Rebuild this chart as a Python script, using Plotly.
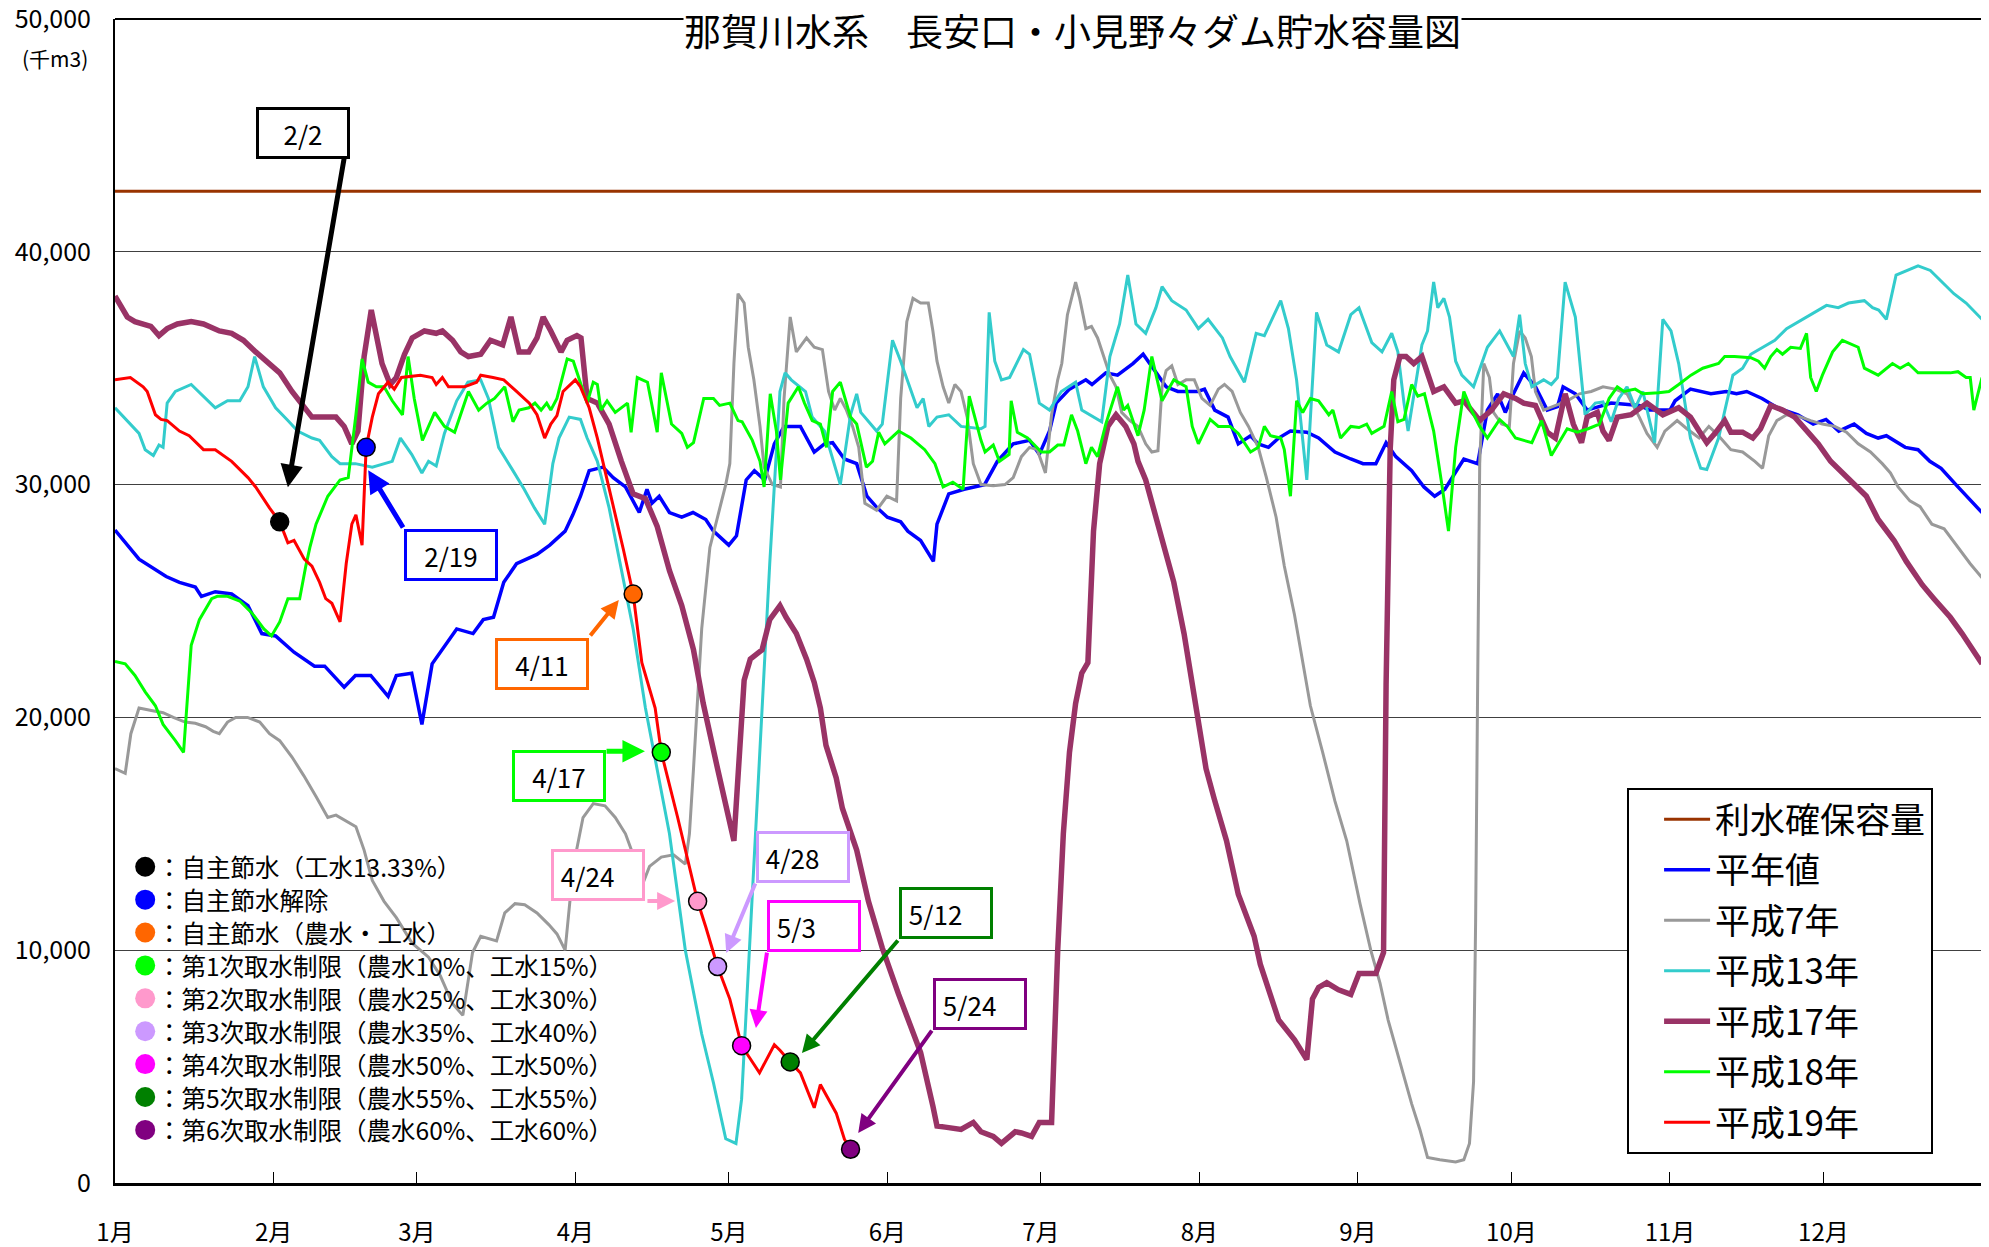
import plotly.graph_objects as go

# ---------------- data (千m3), x = day of year (0 = 1月1日) ----------------
month_ticks = [0, 31, 59, 90, 120, 151, 181, 212, 243, 273, 304, 334]
month_labels = ["1月", "2月", "3月", "4月", "5月", "6月", "7月", "8月", "9月", "10月", "11月", "12月"]
y_ticks = [0, 10000, 20000, 30000, 40000, 50000]

reserve_days = [0, 365]
reserve_vals = [42600, 42600]

avg_days = [0, 4.7, 10, 12.6, 15.7, 16.9, 19.6, 22.8, 26, 28.7, 31.4, 35, 39, 41, 44.8, 47, 50, 53.4, 55, 58,
            60, 62, 66.8, 70, 72, 74, 76, 78.5, 82.5, 85, 88, 89.5, 91, 92.7, 95.4, 97.4, 99.8, 102.5, 104, 105,
            106.4, 108.4, 110.8, 113, 115.5, 117, 120, 121.5, 123.4, 125, 127, 128.9, 130.8, 134, 136.7, 138.7,
            140.3, 142.6, 145, 147, 149, 151, 153.6, 155, 157.5, 160, 160.7, 163, 166, 170, 172.5, 175.6, 178.8,
            180.7, 182.7, 184, 186.6, 189.8, 191, 193.7, 196, 199, 201, 203, 205.5, 207.8, 211.7, 213, 215, 217.6,
            219.6, 222, 223.5, 225.5, 227.5, 229.8, 233, 235.3, 238.5, 241.6, 244, 246.5, 248.5, 250.4, 253.5,
            255.9, 258, 260, 262, 263.7, 266.4, 268.3, 270.3, 271.8, 273.4, 275.4, 277.7, 280, 282, 283.1, 285.5,
            287.8, 292.5, 298, 300, 304, 305, 308, 312, 315, 317, 319, 322, 325, 329, 332, 334.5, 337, 340, 342.4,
            344.7, 346.3, 350, 352.5, 354.8, 357, 360.3, 363.4, 365]
avg_vals = [28050, 26800, 26050, 25800, 25600, 25200, 25400, 25300, 24800, 23600, 23500, 22800, 22200, 22200,
            21300, 21800, 21800, 20900, 21800, 21900, 19700, 22300, 23800, 23600, 24200, 24300, 25800, 26600,
            27000, 27400, 28000, 28700, 29500, 30600, 30750, 30300, 29900, 28800, 29800, 29200, 29500, 28800,
            28600, 28800, 28500, 28000, 27400, 27800, 30200, 30600, 30200, 31750, 32500, 32500, 31400, 31750,
            31800, 31100, 30900, 29500, 29000, 28600, 28400, 28000, 27600, 26700, 28300, 29600, 29800, 30000,
            31000, 31750, 31900, 31300, 32300, 33500, 34100, 34500, 34300, 34800, 34700, 35200, 35600, 35000,
            34200, 34000, 34000, 34100, 33200, 32900, 31750, 32100, 31750, 31600, 32000, 32300, 32250, 32000,
            31400, 31100, 30900, 30900, 31800, 31200, 30600, 29900, 29500, 29800, 30500, 31100, 30900, 33200,
            33900, 33100, 33900, 34800, 34200, 33200, 33350, 34200, 33900, 33200, 33500, 33400, 33200, 33200,
            33600, 34100, 33900, 34000, 33900, 34000, 33700, 33300, 33000, 32600, 32800, 32300, 32600, 32200,
            32000, 32100, 31600, 31500, 31000, 30700, 29900, 29200, 28800]

h7_days = [0, 2, 3.1, 4.7, 7.1, 9.4, 11.4, 13.7, 15.7, 17.7, 19.2, 20.4, 22, 23.6, 25.9, 28.3, 30.2, 32.2, 34.6,
           36.9, 39.3, 41.6, 43.2, 44.8, 47.1, 48.7, 50.3, 52.6, 55, 58.1, 61.3, 63.6, 66, 68, 69.9, 71.5, 74.6,
           76.2, 78.2, 80.1, 82.5, 84.8, 86.4, 88, 89.6, 91.5, 93.5, 95.8, 97.8, 99.8, 101.3, 102.9, 104.5, 106.8,
           109.2, 111.5, 112.3, 113.1, 113.9, 114.7, 116.3, 117.8, 119.4, 120.2, 121, 121.8, 123, 123.8, 124.9,
           126.1, 126.9, 128.5, 130.1, 130.8, 132, 133.2, 135.2, 136.7, 138.3, 139.5, 140.7, 141.8, 143, 144.2,
           145.4, 146.6, 148.9, 150.9, 152.8, 153.6, 154.8, 156, 157.5, 159, 159.9, 160.7, 161.9, 163, 164.2,
           165.4, 166.6, 167.8, 169.3, 171.7, 174, 175.6, 177.2, 178.8, 180.3, 181.9, 183.1, 184.3, 185.1, 186.2,
           187.8, 188.6, 189.8, 190.9, 192.1, 193.3, 194.5, 195.7, 196.8, 198.4, 200, 201.5, 202.7, 203.9, 204.7,
           205.5, 206.6, 207.8, 209.4, 211, 212.5, 214.1, 215.7, 216.9, 218.4, 220, 221.6, 223.5, 225.1, 227,
           228.6, 230.6, 232.2, 233.7, 236.1, 238.5, 240.8, 242.4, 243.4, 245.5, 247.3, 248.9, 251.2, 253.5,
           255.1, 256.6, 259, 262.1, 263.7, 264.8, 265.6, 266, 266.4, 266.8, 267.6, 268.7, 269.5, 271.1, 272.6,
           273.4, 274.6, 275.7, 276.9, 277.7, 279.3, 281.6, 283.9, 286.3, 288.6, 290.9, 293.3, 295.6, 298, 299.5,
           301.5, 303, 305.4, 307.3, 309.7, 311.6, 313.5, 315.9, 318.2, 320.6, 322.1, 323.3, 324.9, 326.8, 329,
           331.5, 333.8, 336.2, 338.5, 340.8, 343.2, 345.5, 347.1, 348.6, 350.9, 352.9, 355.2, 357.6, 360.3,
           362.7, 365]
h7_vals = [17800, 17600, 19300, 20400, 20300, 20200, 20000, 19800, 19750, 19600, 19400, 19300, 19800, 20000,
           20000, 19800, 19300, 19000, 18300, 17500, 16600, 15700, 15800, 15600, 15300, 14300, 13000, 12100,
           11400, 10300, 9700, 8900, 7700, 7200, 9900, 10600, 10400, 11600, 12000, 11950, 11600, 11100, 10700,
           10000, 13600, 15700, 16300, 16200, 15700, 15000, 14100, 12700, 13600, 14000, 14100, 13700, 15000,
           17800, 20600, 23800, 27300, 28600, 30000, 30900, 35200, 38200, 37800, 35900, 34500, 32500, 30750,
           30000, 29900, 33700, 37200, 35700, 36300, 35900, 35800, 34000, 33200, 33700, 33200, 32500, 31600,
           29200, 28900, 29500, 29300, 33700, 37000, 38000, 37800, 37800, 36600, 35300, 34200, 33500, 34300,
           34000, 32900, 30900, 30000, 29950, 30000, 30300, 31200, 31600, 31500, 30500, 33000, 34500, 35200,
           37300, 38700, 38000, 36700, 36800, 36300, 35500, 34700, 34200, 33100, 32750, 32500, 31750, 31400,
           31450, 34200, 34900, 35100, 34300, 34500, 34500, 33700, 33400, 34100, 34300, 34000, 33100, 32500,
           31600, 30300, 28600, 26500, 24400, 22350, 20500, 18500, 16400, 14700, 13000, 12000, 10000, 8600, 7000,
           5200, 3400, 2300, 1100, 1000, 900, 1000, 1700, 4350, 11200, 21400, 30900, 35200, 34600, 33100, 32600,
           32500, 35200, 36600, 36300, 35500, 34000, 33200, 33400, 33600, 33900, 34000, 34200, 34100, 33900,
           32900, 32200, 31600, 32300, 32750, 32400, 32000, 32500, 32100, 31500, 31400, 31000, 30700, 32100,
           32750, 33000, 32950, 32750, 32600, 32500, 32250, 31750, 31400, 30900, 30500, 29900, 29300, 29050,
           28300, 28100, 27300, 26600, 26000]

h13_days = [0, 2.4, 4.7, 5.9, 7.5, 8.6, 9.4, 10.2, 11.8, 14.9, 17.3, 19.6, 22, 24.4, 26, 27.3, 29, 31.4, 33.8,
            35.7, 38.5, 40, 42.4, 44, 47, 50.3, 54.2, 55.8, 58, 60, 61.3, 62.8, 64.4, 66.8, 69, 71.5, 73, 75, 77.8,
            80, 82, 84, 85.6, 86.8, 88.8, 91, 92.3, 94.3, 96.6, 99, 101.3, 103.7, 106, 108.4, 111.5, 114.7, 117,
            119.4, 121.4, 122.5, 124.5, 126.5, 128, 130, 131, 132.2, 135, 136.3, 138.7, 141.8, 143.8, 145, 145.8,
            148.9, 150, 152, 153.6, 155.2, 156.8, 158, 159.1, 160.7, 163, 165.4, 169.3, 170.1, 170.9, 172, 173.3,
            174.9, 176.4, 177.6, 178.8, 180.7, 182.7, 185, 187.8, 189, 192.9, 194.5, 196.4, 198, 199.6, 201.5,
            203.5, 204.7, 206.6, 209.4, 211.8, 213.7, 216.5, 218, 220.8, 223.1, 224.7, 227.9, 229.4, 231, 233,
            234.9, 236.9, 239.2, 241.6, 243.2, 245.7, 247.7, 249.6, 250.8, 252, 252.8, 255.5, 256.6, 257.8, 258.6,
            259.8, 260.9, 262.1, 263.3, 265.6, 268.3, 270.7, 273.4, 274.6, 275.7, 277, 279.3, 280.8, 282, 283.5,
            285.5, 287.4, 289.4, 290.9, 292.5, 294, 295.6, 297.2, 298.7, 301, 302.6, 304.2, 305.7, 308, 310,
            311.2, 313.5, 316.3, 318.2, 319.8, 321.3, 324.5, 326.8, 330, 333, 334.6, 336.9, 338.9, 342, 343.6,
            344.8, 346.3, 348.2, 350.2, 352.5, 354.9, 357.2, 359.5, 361.9, 365]
h13_vals = [33300, 32750, 32200, 31500, 31250, 31700, 31600, 33500, 34000, 34300, 33800, 33300, 33600, 33600,
            34200, 35500, 34200, 33300, 32750, 32300, 32000, 31900, 31200, 30900, 30900, 30750, 31000, 32000,
            31300, 30500, 31000, 30800, 32200, 33600, 34400, 34500, 33700, 31600, 30600, 29800, 29000, 28300,
            30900, 32000, 32900, 32800, 32000, 31000, 29000, 26300, 23800, 20400, 17800, 15000, 10000, 6400, 4300,
            1900, 1700, 3600, 12000, 20400, 26600, 34000, 34800, 34500, 34000, 32900, 32300, 30000, 33000, 33900,
            33100, 32300, 32600, 36200, 35300, 34300, 33300, 33700, 32500, 32900, 33000, 32500, 32400, 32500,
            37400, 35300, 34500, 34600, 35300, 35800, 35600, 33500, 33200, 34000, 34400, 33200, 32700, 35500,
            36900, 39000, 36900, 36500, 37600, 38500, 37900, 37500, 36700, 37100, 36300, 35500, 34400, 36500,
            36400, 37900, 36700, 34500, 30200, 37400, 36000, 35700, 37300, 37600, 36100, 35700, 36500, 35700,
            33500, 32300, 36000, 36600, 38700, 37600, 38000, 37200, 35300, 34700, 34200, 35900, 36600, 35500,
            37300, 35200, 34200, 34500, 34300, 34600, 38700, 37200, 33000, 33500, 33550, 32700, 33700, 34200,
            33300, 34000, 31800, 37100, 36600, 35200, 32000, 30700, 30650, 32000, 34700, 35000, 35600, 35800,
            36200, 36700, 37100, 37500, 37700, 37600, 37800, 37900, 37600, 37500, 37100, 39000, 39200, 39400,
            39200, 38700, 38200, 37800, 37100]

h17_days = [0, 2.4, 3.9, 7, 8.6, 10.2, 12.2, 14.9, 17.3, 20.4, 22.8, 25.1, 27.5, 29.9, 32.2, 34.6, 36.9, 38.5,
            40.8, 43.2, 44.8, 46.3, 47.5, 48.7, 50.1, 51, 52.2, 53.8, 55, 56.6, 58.1, 60.5, 62.8, 64, 66, 67.6,
            69.1, 71.5, 73.4, 75.8, 77.4, 79, 80.9, 82.5, 83.7, 85.2, 87.2, 88.4, 90.3, 91.1, 92.3, 94.3, 96.6, 99,
            101.3, 103.7, 106, 108.4, 110.8, 113.1, 115, 117.8, 121, 123, 124.2, 126.5, 128, 130, 131.2, 133.2,
            135.2, 136.7, 137.9, 139, 141, 142.2, 145, 147.3, 150, 153.2, 155.2, 157.5, 159.9, 160.7, 162.3,
            165.4, 167.8, 169.3, 171.7, 173.3, 176, 177.2, 179.2, 180.7, 183.1, 184.3, 185.4, 186.6, 187.8, 189,
            190.2, 191.3, 192.5, 194.1, 195.7, 197.6, 199.2, 200, 201.5, 203.9, 205, 207, 209, 211.2, 213.3,
            214.9, 217.3, 219.6, 222.7, 223.9, 227.5, 230.6, 233, 234.1, 235.3, 236.9, 239.2, 241.6, 243.2, 246.5,
            248, 248.5, 249.3, 250, 251.2, 252.4, 253.9, 255.5, 256.3, 257.8, 259.8, 262.1, 263.7, 266.8, 269.1,
            271.5, 273.8, 275.4, 277.7, 280, 281.6, 283.5, 285.1, 286.7, 287.8, 289.8, 290.9, 292.1, 293.7, 296.4,
            299.5, 302.6, 305.7, 308, 309.7, 311.2, 312.8, 314.7, 315.9, 318.2, 320.2, 321.7, 323.7, 326, 328.4,
            330.7, 333, 335.4, 337.7, 340, 342.4, 344.7, 347.8, 350.2, 353.3, 355.6, 358.8, 361.1, 365]
h17_vals = [38100, 37200, 37000, 36800, 36400, 36700, 36900, 37000, 36900, 36600, 36500, 36200, 35700, 35200,
            34800, 34000, 33300, 32900, 32900, 32900, 32500, 31750, 32300, 35500, 37500, 36600, 35200, 34300,
            34600, 35600, 36300, 36600, 36500, 36600, 36200, 35700, 35500, 35600, 36200, 36000, 37200, 35700,
            35700, 36300, 37200, 36600, 35700, 36200, 36400, 36300, 33700, 33500, 32600, 31000, 29600, 29400,
            28200, 26300, 24800, 22900, 20600, 17800, 14700, 21600, 22500, 22900, 24200, 24800, 24300, 23600,
            22500, 21500, 20400, 18800, 17400, 16100, 14300, 12100, 10100, 8100, 7000, 5600, 3300, 2450, 2400,
            2300, 2600, 2200, 2000, 1700, 2200, 2150, 2000, 2600, 2600, 10000, 15000, 18500, 20600, 21900, 22350,
            28000, 30900, 32500, 33000, 32500, 31750, 31000, 30200, 28300, 27300, 25800, 23600, 20500, 17800,
            16500, 14700, 12400, 10600, 9400, 7000, 6150, 5300, 7900, 8400, 8600, 8300, 8100, 9000, 9000, 9900,
            21400, 31500, 34500, 35500, 35500, 35200, 35500, 35000, 34000, 34200, 33500, 33600, 32750, 33200,
            33900, 33700, 33500, 33400, 32250, 32000, 33900, 32600, 31800, 32900, 33100, 32300, 31900, 32900,
            33000, 33500, 33000, 33300, 32900, 32300, 31800, 32200, 32750, 32250, 32250, 32000, 32400, 33400,
            33200, 32900, 32300, 31750, 31000, 30500, 30000, 29500, 28500, 27600, 26700, 25700, 25100, 24300,
            23600, 22300]

h18_days = [0, 2, 3.9, 5.9, 7.9, 9.4, 11.8, 13.4, 14.9, 16.5, 18.9, 20, 22, 24.4, 26.7, 29.1, 30.6, 32.2, 33.8,
            36.1, 37.3, 38.1, 39.3, 41.6, 44, 45.6, 47.1, 48.3, 49.5, 51.1, 52.6, 54.2, 56.2, 57.3, 58.5, 60.1,
            62.5, 64.4, 66.4, 69.1, 71.1, 72.7, 74.2, 76.2, 77.8, 79, 80.9, 82.1, 83.3, 84.4, 85.2, 86.4, 88.4,
            89.6, 91.1, 92.3, 93.5, 94.3, 95, 96.2, 97.8, 100.2, 100.9, 102.1, 104.1, 106, 106.8, 108.8, 110.8,
            111.9, 113.1, 115.1, 117, 118.2, 120.2, 121.8, 122.6, 124.6, 126.1, 126.9, 128.1, 129.3, 130.1, 131.6,
            133.6, 134.8, 136.3, 137.9, 139.1, 140.3, 141.8, 143.8, 145, 146.9, 148.1, 149.3, 150.5, 153.2, 155.6,
            158.3, 160.3, 161.9, 163.8, 165.8, 167, 169.3, 170.1, 171.7, 172.9, 174.8, 175.2, 176.4, 178.4, 181.1,
            182.7, 184.3, 185.5, 187, 188.2, 189.8, 190.9, 192.1, 193.7, 196, 197.2, 198, 200, 201.2, 202.7, 204.7,
            207, 209.4, 210.6, 211.8, 214.1, 215.7, 218, 219.6, 222, 223.5, 224.7, 225.9, 227.9, 228.6, 229.8, 231,
            232.2, 233.7, 235.3, 237.3, 238.1, 239.6, 241.6, 243.2, 244.7, 245.7, 248.1, 249.6, 250.8, 252, 253.5,
            254.7, 256, 257.8, 259.4, 260.7, 262.1, 263.7, 265.2, 266.8, 268.3, 270.7, 272.2, 273.8, 277, 278.9,
            280.8, 283.9, 285.9, 288, 290.2, 292.1, 293.7, 295, 297.2, 298.7, 301.8, 303.8, 305.7, 308.1, 310.4,
            313.5, 314.7, 316.6, 319.8, 321.3, 322.5, 323.7, 324.9, 326, 327.6, 329.5, 330.7, 331.5, 332.6, 333.8,
            335.8, 337.7, 340.8, 342, 344.7, 347.5, 349, 350.6, 352.5, 356.4, 358.8, 360.3, 361.9, 362.7, 363.4,
            365]
h18_vals = [22400, 22300, 21800, 21100, 20500, 19700, 19000, 18500, 23100, 24200, 25100, 25200, 25200, 25000,
            24500, 23800, 23500, 24100, 25100, 25100, 26500, 27300, 28300, 29500, 30200, 30300, 33000, 35400,
            34400, 34200, 34200, 33600, 33000, 35500, 33700, 31900, 33100, 32500, 32250, 34000, 33200, 33500,
            33700, 34200, 32700, 33200, 33300, 33500, 33200, 33500, 33200, 33700, 35400, 35300, 34300, 33500,
            34400, 34300, 33200, 33600, 33100, 33500, 32250, 34600, 34400, 32250, 34800, 32600, 32200, 31600,
            31800, 33700, 33700, 33400, 33500, 32750, 32700, 31900, 31000, 29900, 33900, 32300, 30200, 33500,
            34200, 33500, 32750, 32600, 31600, 34000, 34400, 32900, 32600, 30750, 31000, 32250, 31750, 32300,
            32000, 31500, 30900, 29900, 30100, 29800, 33800, 31900, 31400, 31700, 31000, 31300, 33600, 32250,
            32000, 31400, 31400, 31700, 31700, 33000, 32300, 30900, 31600, 31200, 32600, 34200, 33200, 33400,
            32100, 33200, 35500, 33600, 34500, 34200, 32500, 31750, 32800, 32500, 32500, 32200, 31400, 31600,
            32500, 32100, 32000, 31500, 29500, 33600, 33100, 33700, 33600, 33000, 33200, 32000, 32500, 32450,
            32600, 32200, 32500, 34000, 32700, 32800, 34300, 33800, 33900, 32300, 30000, 28000, 31600, 34000,
            33200, 32500, 32000, 32800, 32500, 32000, 31800, 32750, 31250, 32400, 32250, 32400, 32600, 33700,
            34200, 34000, 34100, 33900, 33950, 34000, 34300, 34700, 35000, 35200, 35500, 35500, 35450, 35300,
            35000, 35500, 35800, 35600, 35900, 35850, 36500, 34600, 34000, 34700, 35700, 36200, 35900, 35000,
            34700, 35200, 35000, 35200, 34800, 34800, 34800, 34850, 34600, 34600, 33200, 34600]

h19_days = [0, 3, 5.5, 6.3, 7.9, 9, 10.2, 12.6, 14.5, 17.3, 19.6, 22.8, 26, 27.5, 30.2, 32.2, 33.8, 35, 37, 38.5,
            40, 41.2, 42.4, 44, 45.2, 46.3, 47.1, 48.3, 49.1, 50.3, 51.5, 53.4, 54.6, 56, 59.7, 62, 62.8, 64, 65.2,
            68.3, 70.7, 71.5, 73.9, 76, 78.5, 81, 82.5, 84, 85.2, 86.4, 87.6, 90, 91, 92.7, 94.3, 95.8, 97.4, 99.4,
            101.3, 103, 105.6, 106.8, 110, 112.3, 113.9, 115.5, 117.8, 120.2, 122.5, 124, 126, 128.9, 130, 132,
            134, 136.7, 137.9, 141, 142.6, 143.8]
h19_vals = [34500, 34600, 34200, 34000, 33000, 32800, 32750, 32300, 32100, 31500, 31500, 31000, 30300, 29900,
            29000, 28400, 27500, 27600, 26800, 26500, 25800, 25100, 24900, 24100, 26600, 28300, 28700, 27400,
            31600, 32900, 33900, 34400, 34100, 34600, 34700, 34600, 34300, 34600, 34200, 34200, 34400, 34700,
            34600, 34500, 34000, 33500, 33000, 32000, 32600, 32960, 34000, 34500, 34200, 33300, 32000, 30600,
            29200, 27200, 25300, 22350, 20400, 18500, 15700, 13600, 12100, 11000, 9300, 7900, 5900, 5400, 4730,
            5940, 5700, 5200, 4730, 3230, 4230, 3000, 1880, 1450]

series_names = ["利水確保容量", "平年値", "平成7年", "平成13年", "平成17年", "平成18年", "平成19年"]

# 渇水対策の実施日 (平成19年)
event_labels = ["2/2", "2/19", "4/11", "4/17", "4/24", "4/28", "5/3", "5/12", "5/24"]
event_days = [32.2, 49.1, 101.3, 106.8, 113.9, 117.8, 122.5, 132.0, 143.8]
event_vals = [28400, 31600, 25300, 18500, 12100, 9300, 5900, 5200, 1450]
event_descs = ["：自主節水（工水13.33%）", "：自主節水解除", "：自主節水（農水・工水）",
               "：第1次取水制限（農水10%、工水15%）", "：第2次取水制限（農水25%、工水30%）",
               "：第3次取水制限（農水35%、工水40%）", "：第4次取水制限（農水50%、工水50%）",
               "：第5次取水制限（農水55%、工水55%）", "：第6次取水制限（農水60%、工水60%）"]

# ---------------- styles ----------------
FONT = "Noto Sans CJK JP, Noto Sans, sans-serif"
line_styles = {
    "利水確保容量": ("#993300", 3),
    "平年値": ("#0000FF", 3.5),
    "平成7年": ("#999999", 3),
    "平成13年": ("#33CCCC", 3),
    "平成17年": ("#993366", 5.5),
    "平成18年": ("#00FF00", 3),
    "平成19年": ("#FF0000", 3),
}
event_colors = ["#000000", "#0000FF", "#FF6600", "#00FF00", "#FF99CC", "#CC99FF", "#FF00FF", "#008000", "#800080"]

series_xy = [(reserve_days, reserve_vals), (avg_days, avg_vals), (h7_days, h7_vals), (h13_days, h13_vals),
             (h17_days, h17_vals), (h18_days, h18_vals), (h19_days, h19_vals)]

fig = go.Figure()
for name, (xs, ys) in zip(series_names, series_xy):
    color, width = line_styles[name]
    fig.add_trace(go.Scatter(x=xs, y=ys, mode="lines", name=name, legendgroup=name,
                             line=dict(color=color, width=width), hoverinfo="skip"))

fig.add_trace(go.Scatter(x=event_days, y=event_vals, mode="markers", showlegend=False,
                         marker=dict(size=18, color=event_colors, line=dict(color="black", width=1.5))))

# callout boxes / arrows (layout positions in axis units)
callouts = [
    dict(box=(36.8, 45100), tail=(44.9, 44150), tip=(33.8, 29890), align="center", aw=5),
    dict(box=(65.6, 26970), tail=(56.5, 28090), tip=(49.5, 30620), align="center", aw=5),
    dict(box=(83.5, 22310), tail=(92.7, 23450), tip=(98.5, 25040), align="center", aw=4),
    dict(box=(86.8, 17500), tail=(95.8, 18550), tip=(103.6, 18550), align="center", aw=5),
    dict(box=(94.4, 13210), tail=(103.8, 12110), tip=(109.5, 12110), align="left", aw=4),
    dict(box=(134.5, 14020), tail=(125.3, 12930), tip=(119.5, 9880), align="left", aw=4),
    dict(box=(136.7, 11060), tail=(127.5, 9960), tip=(125.3, 6660), align="left", aw=4),
    dict(box=(162.4, 11580), tail=(153.3, 10480), tip=(134.3, 5580), align="left", aw=4),
    dict(box=(169.1, 7710), tail=(159.9, 6610), tip=(145.3, 2150), align="left", aw=4),
]
annotations = []
for lab, col, c in zip(event_labels, event_colors, callouts):
    annotations.append(dict(x=c["tip"][0], y=c["tip"][1], ax=c["tail"][0], ay=c["tail"][1],
                            xref="x", yref="y", axref="x", ayref="y", text="", showarrow=True,
                            arrowhead=2, arrowsize=0.9, arrowwidth=c["aw"], arrowcolor=col))
    annotations.append(dict(x=c["box"][0], y=c["box"][1], xref="x", yref="y", showarrow=False,
                            text=(" " + lab) if c["align"] == "left" else lab, align=c["align"],
                            width=86, height=44, bordercolor=col, borderwidth=3, borderpad=1,
                            bgcolor="white", font=dict(family=FONT, size=26, color="black")))

# marker key (bottom-left)
key_x_dot = 5.9
key_x_text = 7.9
key_y0 = 13585
key_dy = 1413
fig.add_trace(go.Scatter(x=[key_x_dot] * len(event_colors),
                         y=[key_y0 - key_dy * i for i in range(len(event_colors))],
                         mode="markers", showlegend=False, hoverinfo="skip",
                         marker=dict(size=20, color=event_colors, line=dict(width=0))))
for i, desc in enumerate(event_descs):
    annotations.append(dict(x=key_x_text, y=key_y0 - key_dy * i, xref="x", yref="y", xanchor="left",
                            yanchor="middle", showarrow=False, text=desc,
                            font=dict(family=FONT, size=24.5, color="black")))

# title and unit
annotations.append(dict(x=0.5126, y=0.9905, xref="paper", yref="paper", xanchor="center", yanchor="middle",
                        showarrow=False, text="那賀川水系　長安口・小見野々ダム貯水容量図",
                        bgcolor="white", borderpad=0, font=dict(family=FONT, size=37, color="black")))
annotations.append(dict(x=-0.0323, y=0.9665, xref="paper", yref="paper", xanchor="center", yanchor="middle",
                        showarrow=False, text="(千m3)", font=dict(family=FONT, size=21, color="black")))

# the page body adds an 8px offset; size/margins compensate so the plot area lands at 115..1982 x 19..1183
fig.update_layout(
    width=1981, height=1239,
    margin=dict(l=107, r=7, t=11, b=64, autoexpand=False),
    paper_bgcolor="white", plot_bgcolor="white",
    font=dict(family=FONT, color="black"),
    showlegend=True,
    legend=dict(x=0.8099, y=0.3393, xanchor="left", yanchor="top", bgcolor="white",
                bordercolor="black", borderwidth=2, font=dict(family=FONT, size=35, color="black"),
                tracegroupgap=2, itemwidth=46, indentation=30),
    xaxis=dict(range=[0, 365], tickmode="array", tickvals=month_ticks, ticktext=month_labels,
               ticks="inside", ticklen=11, tickwidth=1, tickcolor="black", showgrid=False,
               showline=True, linecolor="black", linewidth=3, zeroline=False, automargin=False,
               tickfont=dict(family=FONT, size=24, color="black"), ticklabelstandoff=26),
    yaxis=dict(range=[0, 50000], tickmode="array", tickvals=y_ticks, tickformat=",", ticks="",
               showgrid=True, gridcolor="#404040", gridwidth=1, showline=True, linecolor="black",
               linewidth=2, zeroline=False, automargin=False, ticklabeloverflow="allow",
               tickfont=dict(family=FONT, size=25, color="black"), ticklabelstandoff=17),
    shapes=[
        dict(type="line", xref="paper", yref="paper", x0=0, x1=1, y0=1, y1=1, line=dict(color="black", width=2)),
        dict(type="line", xref="paper", yref="paper", x0=1, x1=1, y0=0, y1=1, line=dict(color="black", width=2)),
    ],
    annotations=annotations,
)

fig.write_html("out.html")
